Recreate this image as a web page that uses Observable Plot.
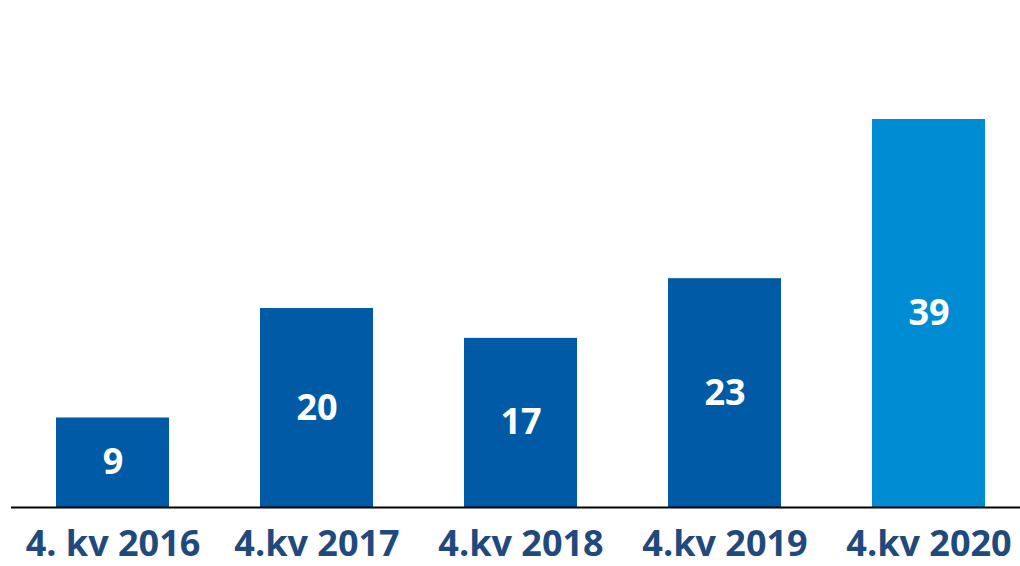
<!DOCTYPE html>
<html>
<head>
<meta charset="utf-8">
<script src="https://cdn.jsdelivr.net/npm/d3@7"></script>
<script src="https://cdn.jsdelivr.net/npm/@observablehq/plot@0.6"></script>
<style>
  html, body { margin: 0; padding: 0; background: #fff; }
  #chart svg { display: block; }
</style>
</head>
<body>
<div id="chart"></div>
<script>
const categories = ["4. kv 2016", "4.kv 2017", "4.kv 2018", "4.kv 2019", "4.kv 2020"];
const values = [9, 20, 17, 23, 39];
const barColors = ["#005AA6", "#005AA6", "#005AA6", "#005AA6", "#008CD2"];

const data = categories.map((c, i) => ({cat: c, v: values[i], color: barColors[i]}));

const chart = Plot.plot({
  width: 1020,
  height: 566,
  marginLeft: 11,
  marginRight: 0,
  marginTop: 0,
  marginBottom: 0,
  style: {fontFamily: "'Open Sans', sans-serif", background: "#fff"},
  x: {domain: categories, range: [9.5, 1031.5], paddingInner: 0.444, paddingOuter: 0.222, axis: null},
  y: {domain: [0, 39], range: [507, 119], axis: null},
  marks: [
    Plot.barY(data, {x: "cat", y: "v", fill: "color"}),
    Plot.ruleY([0], {stroke: "#000", strokeWidth: 2}),
    Plot.text(data, {x: "cat", y: d => d.v / 2, text: d => String(d.v), fill: "#fff", fontSize: 36, fontWeight: "bold"}),
    Plot.text(data, {x: "cat", y: 0, dy: 37, text: "cat", fill: "#1F4A7E", fontSize: 36, fontWeight: "bold"})
  ]
});
document.getElementById("chart").appendChild(chart);
</script>
</body>
</html>
